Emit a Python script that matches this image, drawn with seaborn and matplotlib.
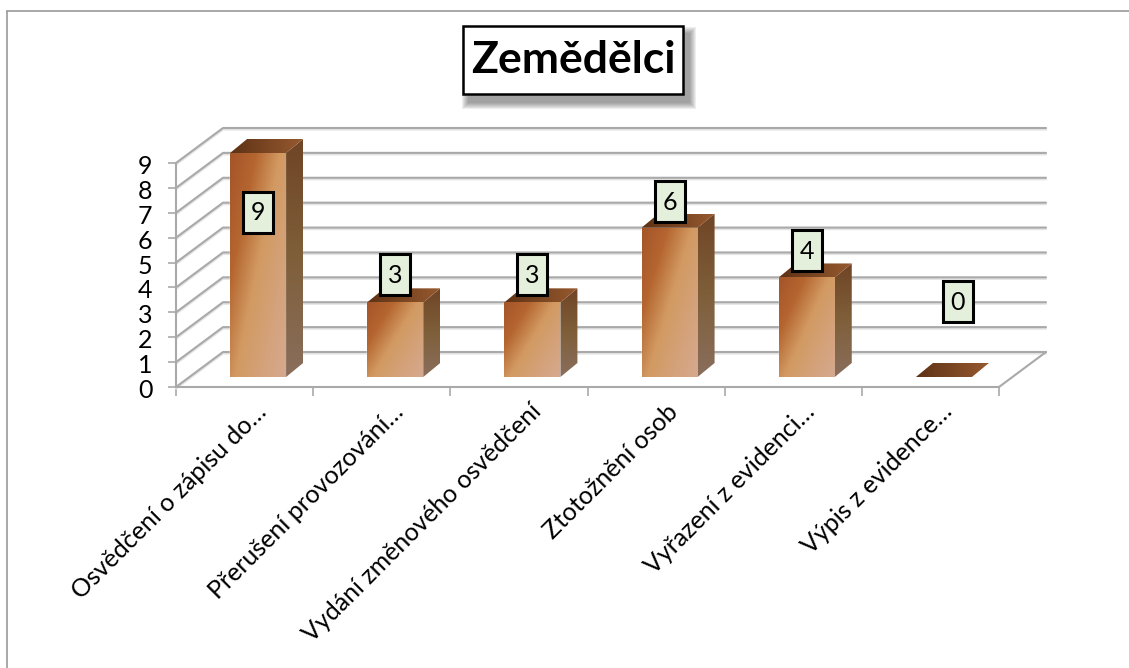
import numpy as np
import pandas as pd
import matplotlib
matplotlib.use("Agg")
import matplotlib.pyplot as plt
import matplotlib.transforms as mtrans
from matplotlib.colors import LinearSegmentedColormap
from matplotlib.lines import Line2D
from matplotlib.patches import Polygon, Rectangle
import seaborn as sns

title = "Zemědělci"
categories = ["Osvědčení o zápisu do…", "Přerušení provozování…", "Vydání změnového osvědčení",
              "Ztotožnění osob", "Vyřazení z evidenci…", "Výpis z evidence…"]
values = [9, 3, 3, 6, 4, 0]
y_ticks = [0, 1, 2, 3, 4, 5, 6, 7, 8, 9]
# pixels from bar top centre to centre of the value box
label_dy = [-59, 28, 28, 26, 27, 76]
label_dx = [0, 0, 0, 0, 0, 14]

W, H = 1129, 668
GRID = "#a9a9a9"

sns.set_style("white")
plt.rcParams["font.family"] = ["Lato", "DejaVu Sans"]

fig = plt.figure(figsize=(W / 100, H / 100), dpi=100)


def px_axes(left, top, right, bottom):
    return fig.add_axes([left / W, 1 - bottom / H, (right - left) / W, (bottom - top) / H])


# frame axes = front plane of the 3D box
ax = px_axes(176, 163, 999, 387)
ax.set_xlim(-0.5, 5.5)
ax.set_ylim(0, 9)
x_unit = 823 / 6
y_unit = 224 / 9
wall_dx = 47 / x_unit
wall_dy = 35 / y_unit

for v in y_ticks:
    xs = [-0.5, -0.5 + wall_dx, 5.5 + wall_dx]
    ys = [v, v + wall_dy, v + wall_dy]
    ax.plot(xs, [y - 1.5 / y_unit for y in ys], color="#e4e4e4", lw=1.6, clip_on=False, zorder=1)
    ax.plot(xs, ys, color=GRID, lw=1.5, clip_on=False, zorder=2)
ax.plot([5.5, 5.5 + wall_dx], [0, wall_dy], color=GRID, lw=1.5, clip_on=False, zorder=2)

for s in ["top", "right"]:
    ax.spines[s].set_visible(False)
for s in ["left", "bottom"]:
    ax.spines[s].set_color(GRID)
    ax.spines[s].set_linewidth(1.5)
ax.set_yticks(y_ticks)
ax.set_yticklabels([str(v) for v in y_ticks])
ax.tick_params(axis="y", length=6, width=1.2, color=GRID, pad=11, labelsize=18, left=True, labelcolor="black")
ylab_shift = mtrans.ScaledTranslation(0, -1.5 / 100, fig.dpi_scale_trans)
for lab in ax.get_yticklabels():
    lab.set_transform(lab.get_transform() + ylab_shift)
ax.set_xticks(range(len(categories)))
ax.set_xticks(np.arange(-0.5, 6), minor=True)
ax.tick_params(axis="x", which="major", length=0, pad=15, labelcolor="black")
ax.tick_params(axis="x", which="minor", length=6.5, width=1.2, color=GRID, bottom=True)
ax.set_xticklabels(categories, rotation=45, ha="right", va="center", rotation_mode="anchor", fontsize=18)
shift = mtrans.ScaledTranslation(18 / 100, 0, fig.dpi_scale_trans)
for lab in ax.get_xticklabels():
    lab.set_transform(lab.get_transform() + shift)

# bars sit a bit deeper in the box than the front plane
ax_bar = px_axes(189.5, 153 - 15, 1012.5, 377)
ax_bar.patch.set_alpha(0)
df = pd.DataFrame({"category": categories, "value": values})
sns.barplot(data=df, x="category", y="value", color="#c98a55", width=56 / x_unit, saturation=1, ax=ax_bar)
ylim_top = 9 + 15 / y_unit

front_cmap = LinearSegmentedColormap.from_list("front", ["#a4552a", "#b5652f", "#d29a62", "#d4a27a", "#d6a98f"])
side_cmap = LinearSegmentedColormap.from_list("side", ["#6f4526", "#7f5f3a", "#8a6e5c"])
top_cmap = LinearSegmentedColormap.from_list("top", ["#5e3216", "#7a4622", "#96592f"])
depth_x = 17 / x_unit
depth_y = 14 / y_unit


def gradient(clip, extent, cmap, mode):
    u, v = np.meshgrid(np.linspace(0, 1, 60), np.linspace(0, 1, 120))
    if mode == "diag":
        t = 0.55 * u + 0.45 * v
    elif mode == "down":
        t = v
    else:
        t = u
    im = ax_bar.imshow(t, extent=extent, origin="upper", cmap=cmap, vmin=0, vmax=1, aspect="auto", zorder=3)
    ax_bar.add_patch(clip)
    clip.set_visible(False)
    im.set_clip_path(clip)


for bar, val in zip(list(ax_bar.patches), values):
    x0 = bar.get_x()
    x1 = x0 + bar.get_width()
    top = bar.get_height()
    if val > 0:
        front = Rectangle((x0, 0), x1 - x0, top, transform=ax_bar.transData)
        gradient(front, (x0, x1, 0, top), front_cmap, "diag")
        side = Polygon([(x1, 0), (x1 + depth_x, depth_y), (x1 + depth_x, top + depth_y), (x1, top)],
                       transform=ax_bar.transData)
        gradient(side, (x1, x1 + depth_x, 0, top + depth_y), side_cmap, "down")
    lid = Polygon([(x0, top), (x0 + depth_x, top + depth_y), (x1 + depth_x, top + depth_y), (x1, top)],
                  transform=ax_bar.transData)
    gradient(lid, (x0, x1 + depth_x, top, top + depth_y), top_cmap, "across")

ax_bar.set_xlim(-0.5, 5.5)
ax_bar.set_ylim(0, ylim_top)
ax_bar.axis("off")

# value boxes, size fixed in pixels
for i, val in enumerate(values):
    px, py = ax_bar.transData.transform((i, val))
    place = mtrans.Affine2D().translate(px + label_dx[i], py + label_dy[i])
    ax_bar.add_artist(Rectangle((-15, -20.5), 30, 41, transform=place, facecolor="#e4efdc",
                                edgecolor="black", lw=2.2, zorder=6, clip_on=False))
    ax_bar.text(0, -1, str(val), transform=place, ha="center", va="center", fontsize=18,
                color="black", zorder=7, clip_on=False)

# title box with soft shadow
fig_px = mtrans.Affine2D().scale(1, -1).translate(0, H)
for grow in range(7, 0, -1):
    fig.add_artist(Rectangle((463 + 6 - grow, 26 + 8 - grow), 220 + 2 * grow, 68 + 2 * grow, transform=fig_px,
                             facecolor="#444444", edgecolor="none", alpha=0.09, zorder=8))
fig.add_artist(Rectangle((463, 26), 220, 68, transform=fig_px, facecolor="white", edgecolor="black", lw=1.8, zorder=9))
fig.text(573 / W, 1 - 60 / H, title, ha="center", va="center", fontsize=32, fontweight="bold", color="black", zorder=10)

# outer chart border
fig.add_artist(Line2D([6.5, W], [10.5, 10.5], transform=fig_px, color="#9a9a9a", lw=1.2))
fig.add_artist(Line2D([6.5, 6.5], [10.5, H], transform=fig_px, color="#9a9a9a", lw=1.2))

fig.savefig("out.png", dpi=100)
